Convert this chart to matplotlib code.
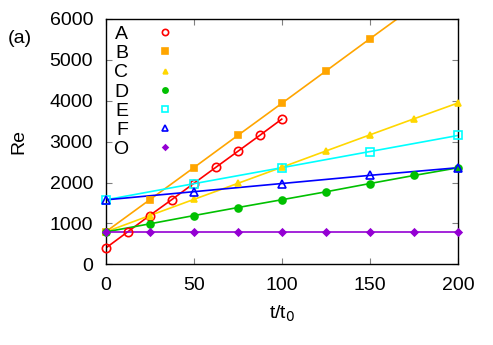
import matplotlib
matplotlib.use('Agg')
import matplotlib.pyplot as plt
import numpy as np
from matplotlib.lines import Line2D

plt.rcParams['font.family'] = ['Liberation Sans', 'DejaVu Sans']

# data (Re vs t/t0)
t_a = [0, 12.5, 25, 37.5, 50, 62.5, 75, 87.5, 100]
re_a = [392, 790, 1190, 1578, 1975, 2368, 2760, 3152, 3550]
t_b = [0, 25, 50, 75, 100, 125, 150, 175, 200]
re_b = [790, 1575, 2360, 3150, 3936, 4725, 5515, 6300, 7090]
t_c = [0, 25, 50, 75, 100, 125, 150, 175, 200]
re_c = [790, 1190, 1585, 1978, 2372, 2770, 3165, 3558, 3946]
t_d = [0, 25, 50, 75, 100, 125, 150, 175, 200]
re_d = [790, 988, 1190, 1387, 1578, 1772, 1975, 2172, 2360]
t_e = [0, 50, 100, 150, 200]
re_e = [1575, 1970, 2362, 2757, 3150]
t_f = [0, 50, 100, 150, 200]
re_f = [1575, 1775, 1975, 2175, 2362]
t_o = [0, 25, 50, 75, 100, 125, 150, 175, 200]
re_o = [788, 788, 788, 788, 788, 788, 788, 788, 788]

labels = ['A', 'B', 'C', 'D', 'E', 'F', 'O']
series = [(t_a, re_a), (t_b, re_b), (t_c, re_c), (t_d, re_d),
          (t_e, re_e), (t_f, re_f), (t_o, re_o)]
colors = ['#ff0000', '#ffa500', '#ffd700', '#00c000', '#00ffff', '#0000ff', '#9400d3']
markers = ['o', 's', '^', 'o', 's', '^', 'D']
filled = [False, True, True, True, False, False, True]
msizes = [6, 5, 4.5, 5, 5.5, 6, 3.5]

fig = plt.figure(figsize=(4.93, 3.45), dpi=100)
ax = fig.add_axes([0.214, 0.234, 0.715, 0.711])

handles = []
for (t, re), lab, c, m, f, ms in zip(series, labels, colors, markers, filled, msizes):
    t = np.array(t)
    re = np.array(re)
    ax.plot(t, re, '-', color=c, lw=1.2, zorder=2)
    keep = re <= 6000
    fc = c if f else 'none'
    ax.plot(t[keep], re[keep], ls='none', marker=m, ms=ms, mfc=fc, mec=c,
            mew=1.2, clip_on=False, zorder=3)
    handles.append(Line2D([], [], ls='none', marker=m, ms=ms * 0.75, mfc=fc,
                          mec=c, mew=1.2, label=lab))

ax.set_xlim(0, 200)
ax.set_ylim(0, 6000)
ax.set_xticks([0, 50, 100, 150, 200])
ax.set_yticks([0, 1000, 2000, 3000, 4000, 5000, 6000])
ax.tick_params(direction='in', length=4, color='#808080', labelsize=14,
               top=True, right=True, pad=9)
for s in ax.spines.values():
    s.set_linewidth(1.0)

ax.set_xlabel('t/t$_0$', fontsize=14, labelpad=7)
ax.set_ylabel('Re', fontsize=14, labelpad=16)
fig.text(0.015, 0.875, '(a)', fontsize=14)

leg = ax.legend(handles=handles, loc='upper left', frameon=False,
                markerfirst=False, fontsize=14, handlelength=1.0,
                handletextpad=1.4, labelspacing=0.08,
                borderaxespad=0.0, bbox_to_anchor=(0.0, 1.005))
for txt in leg.get_texts():
    txt.set_ha('right')

fig.savefig('out.png', dpi=100)
